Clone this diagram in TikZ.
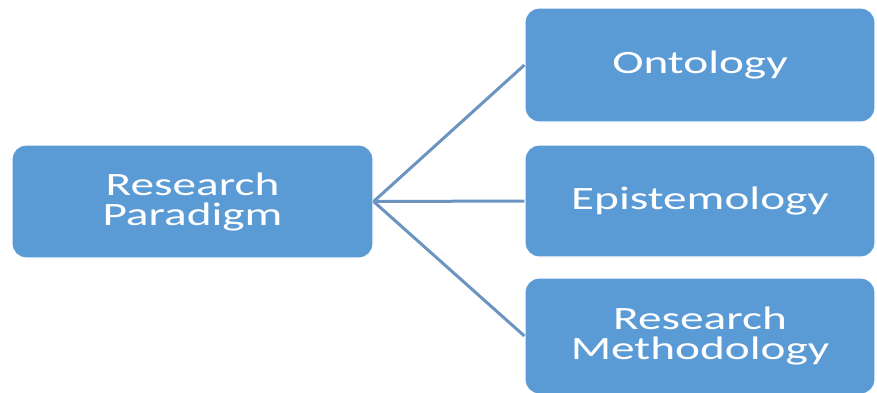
\documentclass[tikz,border=0pt]{standalone}
\usepackage{fontspec}
\setmainfont{Carlito}[FakeStretch=1.45]
\usepackage{xcolor}
\usetikzlibrary{positioning}
\definecolor{boxblue}{HTML}{5B9BD5}
\definecolor{linkblue}{HTML}{6B95C0}

\tikzset{
 parabox/.style={draw=white, line width=1.2pt, fill=boxblue, rounded corners=14pt,
   text=white, align=center, inner sep=0pt,
   font={\fontsize{32.6}{30}\selectfont}},
 link/.style={draw=linkblue, line width=3pt}
}

\begin{document}
\begin{tikzpicture}[x=1pt,y=1pt]
 \useasboundingbox (0,0) rectangle (877,-392);
 %\draw [help lines] (0,0) grid [step=50] (877,-392);
 \node [parabox, minimum width=361pt, minimum height=113pt] (para) at (192.5,-201.5) {Research\\Paradigm};
 \node [parabox, minimum width=350pt, minimum height=114pt] (onto) at (700,-65) {Ontology};
 \node [parabox, minimum width=350pt, minimum height=112pt] (epis) at (700,-201) {Epistemology};
 \node [parabox, minimum width=350pt, minimum height=116pt] (meth) at (700,-336) {Research\\Methodology};
 %
 \draw [link] (para.east) -- (onto.west);
 \draw [link] (para.east) -- (epis.west);
 \draw [link] (para.east) -- (meth.west);
\end{tikzpicture}
\end{document}
